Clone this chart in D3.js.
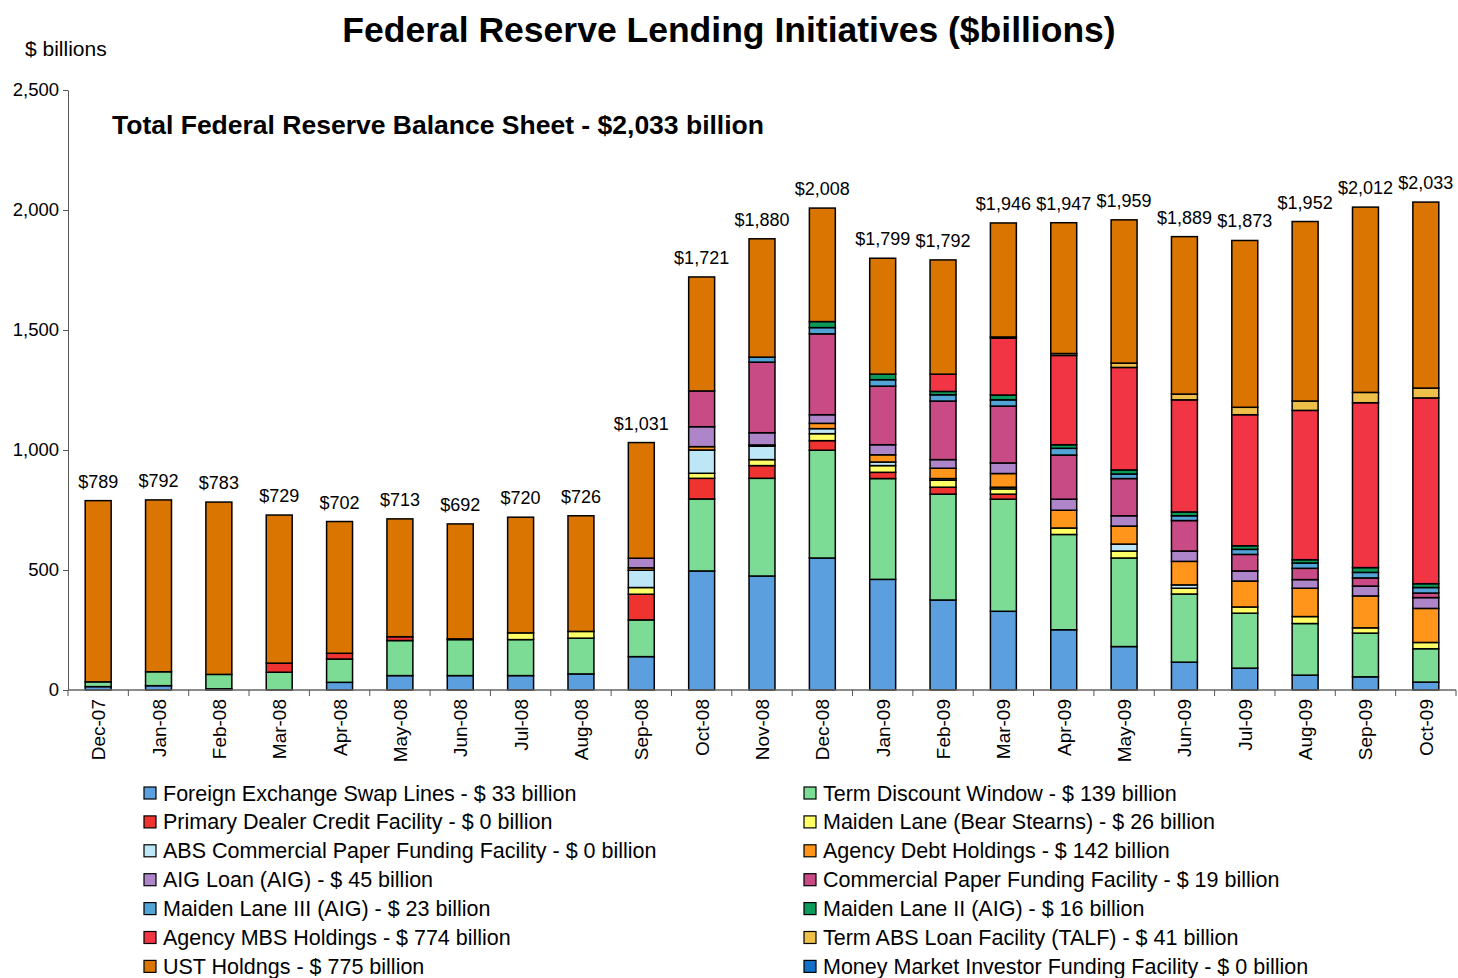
<!DOCTYPE html>
<html>
<head>
<meta charset="utf-8">
<script src="https://cdn.jsdelivr.net/npm/d3@7"></script>
<style>
  body { margin: 0; background: #fff; }
  svg { font-family: "Liberation Sans", Arial, sans-serif; }
</style>
</head>
<body>
<svg id="chart" width="1458" height="978"></svg>
<script>
// months on the x axis
const months = ["Dec-07","Jan-08","Feb-08","Mar-08","Apr-08","May-08","Jun-08","Jul-08","Aug-08",
  "Sep-08","Oct-08","Nov-08","Dec-08","Jan-09","Feb-09","Mar-09","Apr-09","May-09","Jun-09",
  "Jul-09","Aug-09","Sep-09","Oct-09"];

// total labels shown above each bar
const totals = [789,792,783,729,702,713,692,720,726,1031,1721,1880,2008,1799,1792,1946,1947,1959,1889,1873,1952,2012,2033];

// series, bottom of the stack first
const fxSwap     = [14,18,5,0,32,60,60,60,67,139,496,475,550,461,375,328,251,181,116,91,62,55,33];
const termDisc   = [20,58,60,74,97,146,150,150,149,153,300,407,449,420,441,467,397,369,284,229,215,182,139];
const pdcf       = [0,0,0,38,24,16,3,0,0,107,86,53,40,26,29,21,0,0,0,0,0,0,0];
const maidenLane = [0,0,0,0,0,0,0,28,28,28,21,25,29,28,29,22,27,29,24,26,29,22,26];
const abcp       = [0,0,0,0,0,0,0,0,0,72,97,56,21,15,7,7,0,29,14,0,0,0,0];
const agencyDebt = [0,0,0,0,0,0,0,0,0,10,14,5,22,30,43,57,74,75,98,108,118,133,142];
const aigLoan    = [0,0,0,0,0,0,0,0,0,40,83,51,36,42,36,44,46,43,43,42,36,41,45];
const cpff       = [0,0,0,0,0,0,0,0,0,0,149,294,337,244,244,237,184,155,127,69,47,34,19];
const ml3        = [0,0,0,0,0,0,0,0,0,0,0,21,26,27,26,26,28,19,20,21,22,23,23];
const ml2        = [0,0,0,0,0,0,0,0,0,0,0,0,25,23,14,20,15,17,16,15,14,20,16];
const agencyMbs  = [0,0,0,0,0,0,0,0,0,0,0,0,0,0,72,237,372,427,467,546,622,687,774];
const talf       = [0,0,0,0,0,0,0,0,0,0,0,0,0,0,0,5,8,18,24,31,39,43,41];
const ust        = [755,716,718,617,549,491,479,482,482,482,475,493,473,483,476,475,545,597,656,695,748,772,775];
const mmiff      = [0,0,0,0,0,0,0,0,0,0,0,0,0,0,0,0,0,0,0,0,0,0,0];

const yTicks = [0, 500, 1000, 1500, 2000, 2500];

const series = [
  { name: "Foreign Exchange Swap Lines", values: fxSwap, color: "#5b9fdf" },
  { name: "Term Discount Window", values: termDisc, color: "#7cdc95" },
  { name: "Primary Dealer Credit Facility", values: pdcf, color: "#ee3330" },
  { name: "Maiden Lane (Bear Stearns)", values: maidenLane, color: "#ffff66" },
  { name: "ABS Commercial Paper Funding Facility", values: abcp, color: "#bde6f7" },
  { name: "Agency Debt Holdings", values: agencyDebt, color: "#ff951a" },
  { name: "AIG Loan (AIG)", values: aigLoan, color: "#ae85c8" },
  { name: "Commercial Paper Funding Facility", values: cpff, color: "#c84b86" },
  { name: "Maiden Lane III (AIG)", values: ml3, color: "#52a3d6" },
  { name: "Maiden Lane II (AIG)", values: ml2, color: "#0b9a5a" },
  { name: "Agency MBS Holdings", values: agencyMbs, color: "#f23545" },
  { name: "Term ABS Loan Facility (TALF)", values: talf, color: "#eec04a" },
  { name: "UST Holdngs", values: ust, color: "#d97500" },
  { name: "Money Market Investor Funding Facility", values: mmiff, color: "#1070c8" }
];

const svg = d3.select("#chart");
const margin = { left: 68, right: 1456, top: 90, bottom: 690 };

const x = d3.scaleBand().domain(months).range([margin.left, margin.right]).paddingInner(0.57).paddingOuter(0.285);
const y = d3.scaleLinear().domain([0, 2500]).range([margin.bottom, margin.top]);

// stack the data
const rows = months.map((m, i) => {
  const r = { month: m };
  series.forEach(s => r[s.name] = s.values[i]);
  return r;
});
const stack = d3.stack().keys(series.map(s => s.name))(rows);

// titles
svg.append("text").attr("x", 729).attr("y", 42).attr("text-anchor", "middle")
  .style("font-size", "35.5px").style("font-weight", "bold").text("Federal Reserve Lending Initiatives ($billions)");
svg.append("text").attr("x", 25).attr("y", 56).style("font-size", "21px").text("$ billions");
svg.append("text").attr("x", 112).attr("y", 134).style("font-size", "26.5px").style("font-weight", "bold")
  .text("Total Federal Reserve Balance Sheet - $2,033 billion");

// y axis
const yAxis = svg.append("g").attr("transform", `translate(${margin.left},0)`)
  .call(d3.axisLeft(y).tickValues(yTicks).tickFormat(d3.format(",")).tickSize(5).tickSizeOuter(0));
yAxis.select(".domain").attr("stroke", "#555");
yAxis.selectAll(".tick line").attr("stroke", "#555");
yAxis.selectAll(".tick text").style("font-size", "18.5px").attr("x", -9).attr("fill", "#000");

// bars
const layers = svg.append("g").selectAll("g").data(stack).join("g")
  .attr("fill", (d, i) => series[i].color);
layers.selectAll("rect").data(d => d.filter(p => p[1] - p[0] > 0)).join("rect")
  .attr("x", d => x(d.data.month))
  .attr("width", x.bandwidth())
  .attr("y", d => y(d[1]))
  .attr("height", d => y(d[0]) - y(d[1]))
  .attr("stroke", "#000")
  .attr("stroke-width", 1.5);

// x axis
const step = x.step();
const xg = svg.append("g");
xg.append("line").attr("x1", margin.left).attr("x2", margin.right)
  .attr("y1", margin.bottom).attr("y2", margin.bottom).attr("stroke", "#666").attr("stroke-width", 1.5);
xg.selectAll("line.tick").data(d3.range(months.length + 1)).join("line").attr("class", "tick")
  .attr("x1", i => margin.left + i * step).attr("x2", i => margin.left + i * step)
  .attr("y1", margin.bottom).attr("y2", margin.bottom + 6).attr("stroke", "#555");
xg.selectAll("text").data(months).join("text")
  .attr("transform", d => `translate(${x(d) + x.bandwidth() / 2 + 7},${margin.bottom + 9}) rotate(-90)`)
  .attr("text-anchor", "end")
  .style("font-size", "19px")
  .text(d => d);

// total labels
svg.append("g").selectAll("text").data(totals).join("text")
  .attr("x", (d, i) => x(months[i]) + x.bandwidth() / 2)
  .attr("y", d => y(d) - 13)
  .attr("text-anchor", "middle")
  .style("font-size", "18px")
  .text(d => "$" + d3.format(",")(d));

// legend, two columns
const legend = svg.append("g").selectAll("g").data(series).join("g")
  .attr("transform", (d, i) => `translate(${i % 2 === 0 ? 144 : 804},${793 + Math.floor(i / 2) * 28.9})`);
legend.append("rect").attr("x", 0).attr("y", -6).attr("width", 12).attr("height", 12)
  .attr("fill", d => d.color).attr("stroke", "#000").attr("stroke-width", 1.2);
legend.append("text").attr("x", 19).attr("y", 7.5).style("font-size", "21.5px")
  .text(d => `${d.name} - $ ${d.values[d.values.length - 1]} billion`);
</script>
</body>
</html>
